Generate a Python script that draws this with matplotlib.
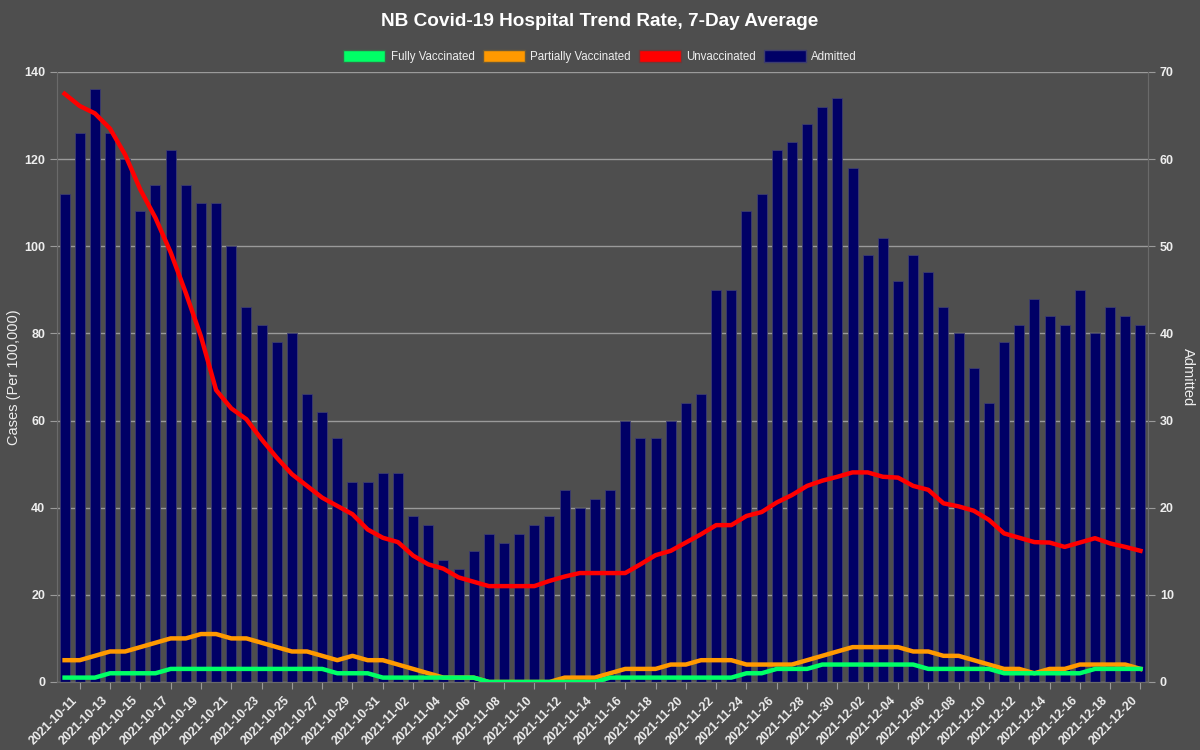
"""
NB Covid-19 hospital trend rate, 7-day average
"""
import pandas as pd
from matplotlib import pyplot as plt
from matplotlib.patches import Patch
from matplotlib.transforms import ScaledTranslation

plt.rcParams['font.family'] = ['Liberation Sans', 'DejaVu Sans']

dates = pd.date_range('2021-10-10', '2021-12-20').strftime('%Y-%m-%d').tolist()

admitted = [56, 63, 68, 63, 60, 54, 57, 61, 57, 55,
            55, 50, 43, 41, 39, 40, 33, 31, 28, 23,
            23, 24, 24, 19, 18, 14, 13, 15, 17, 16,
            17, 18, 19, 22, 20, 21, 22, 30, 28, 28,
            30, 32, 33, 45, 45, 54, 56, 61, 62, 64,
            66, 67, 59, 49, 51, 46, 49, 47, 43, 40,
            36, 32, 39, 41, 44, 42, 41, 45, 40, 43,
            42, 41]

unvaccinated = [135, 132.2, 130.5, 127, 121, 113, 106.5, 98.6, 89.3, 79.3, 67, 62.8,
                60.3, 55.7, 51.5, 47.7, 45, 42.3, 40.4, 38.5, 35, 33.1, 32.1, 29,
                27, 26, 24, 23, 22, 22, 22, 22, 23.2, 24.2, 25, 25,
                25, 25, 27, 29.1, 30.1, 32, 33.9, 36, 36, 38.1, 39, 41.2,
                42.9, 45, 46.2, 47.1, 48.1, 48.1, 47.1, 46.9, 45, 44.1, 41, 40.3,
                39.3, 37.2, 34.1, 33.1, 32.1, 32, 31, 32, 33, 31.8, 31, 30.1]

partially = [5, 5, 6, 7, 7, 8, 9, 10, 10, 11, 11, 10,
             10, 9, 8, 7, 7, 6, 5, 6, 5, 5, 4, 3,
             2, 1, 1, 1, 0, 0, 0, 0, 0, 1, 1, 1,
             2, 3, 3, 3, 4, 4, 5, 5, 5, 4, 4, 4,
             4, 5, 6, 7, 8, 8, 8, 8, 7, 7, 6, 6,
             5, 4, 3, 3, 2, 3, 3, 4, 4, 4, 4, 3]

fully = [1, 1, 1, 2, 2, 2, 2, 3, 3, 3, 3, 3,
         3, 3, 3, 3, 3, 3, 2, 2, 2, 1, 1, 1,
         1, 1, 1, 1, 0, 0, 0, 0, 0, 0, 0, 0,
         1, 1, 1, 1, 1, 1, 1, 1, 1, 2, 2, 3,
         3, 3, 4, 4, 4, 4, 4, 4, 4, 3, 3, 3,
         3, 3, 2, 2, 2, 2, 2, 2, 3, 3, 3, 3]

bg = '#4e4e4e'
txt = '#eeeeee'
grid_c = '#9a9a9a'

x = list(range(len(dates)))

fig = plt.figure(figsize=(12, 7.5), dpi=100, facecolor=bg)
ax = fig.add_axes([0.0475, 0.0907, 0.9092, 0.8133])
ax2 = ax.twinx()

# bars on the right axis, drawn underneath the lines
ax2.set_facecolor(bg)
ax2.bar(x, admitted, width=0.66, color='#000066', edgecolor='#3c3c70', linewidth=0.6, zorder=2)
ax2.set_ylim(0, 70)
ax2.set_yticks(range(0, 71, 10))
ax2.grid(axis='y', color=grid_c, linewidth=1, zorder=0)
ax2.set_axisbelow(True)
ax2.set_ylabel('Admitted', color=txt, fontsize=10.5, rotation=270, labelpad=15)

ax.set_zorder(ax2.get_zorder() + 1)
ax.patch.set_visible(False)
ax.plot(x, unvaccinated, color='#ff0000', lw=3.2, solid_joinstyle='round', zorder=3)
ax.plot(x, partially, color='#ff9900', lw=3.2, solid_joinstyle='round', zorder=4)
ax.plot(x, fully, color='#00ff66', lw=3.2, solid_joinstyle='round', zorder=5)
ax.set_ylim(0, 140)
ax.set_yticks(range(0, 141, 20))
ax.set_xlim(-0.5, len(dates) - 0.5)
ax.set_ylabel('Cases (Per 100,000)', color=txt, fontsize=10.5, labelpad=2)

ax.set_xticks(x[1::2])
ax.set_xticklabels(dates[1::2], rotation=45, ha='right', rotation_mode='anchor')

for a in (ax, ax2):
    a.tick_params(colors=grid_c, labelcolor=txt, labelsize=9, length=5)
    for lab in a.get_xticklabels() + a.get_yticklabels():
        lab.set_fontweight('bold')
    for s in a.spines.values():
        s.set_color('#6a6a6a')
    a.spines['top'].set_visible(False)
ax.tick_params(axis='x', labelsize=8.8, pad=4)
shift = ScaledTranslation(-6 / 72, 0, fig.dpi_scale_trans)
for lab in ax.get_xticklabels():
    lab.set_transform(lab.get_transform() + shift)

fig.suptitle('NB Covid-19 Hospital Trend Rate, 7-Day Average', color='white',
             fontsize=13.7, fontweight='bold', y=0.982)

handles = [Patch(facecolor='#00ff66', edgecolor='#3a6a4a', label='Fully Vaccinated'),
           Patch(facecolor='#ff9900', edgecolor='#6a5a3a', label='Partially Vaccinated'),
           Patch(facecolor='#ff0000', edgecolor='#6a3a3a', label='Unvaccinated'),
           Patch(facecolor='#000066', edgecolor='#3c3c70', label='Admitted')]
leg = fig.legend(handles=handles, loc='center', bbox_to_anchor=(0.5, 0.925), ncol=4,
                 frameon=False, fontsize=8.3, handlelength=3.65, handleheight=1.3,
                 columnspacing=0.7, handletextpad=0.45)
for t in leg.get_texts():
    t.set_color(txt)

fig.savefig('out.png', dpi=100, facecolor=bg)
